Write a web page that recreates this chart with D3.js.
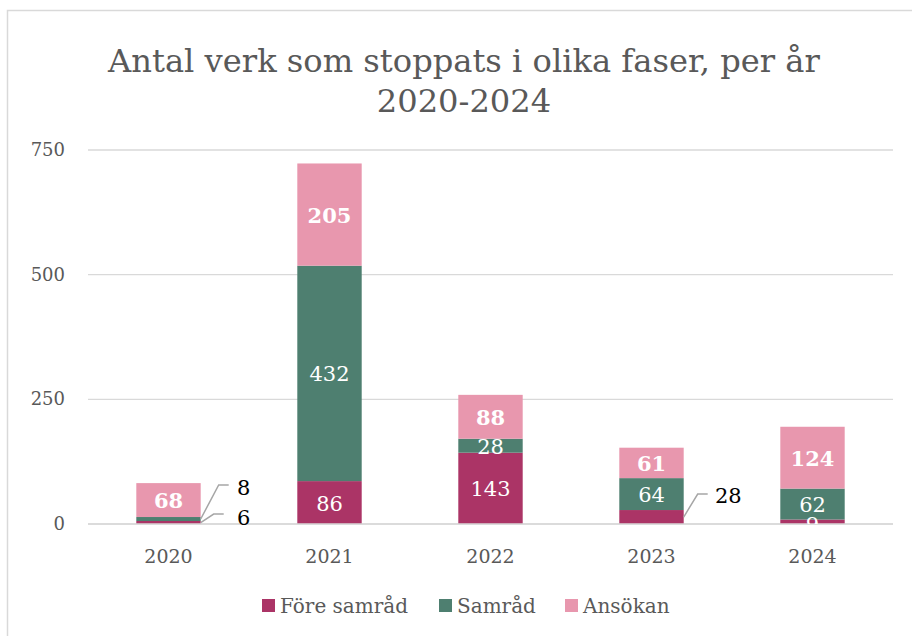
<!DOCTYPE html>
<html>
<head>
<meta charset="utf-8">
<script src="https://cdn.jsdelivr.net/npm/d3@7"></script>
<style>
  body { margin: 0; background: #fff; }
  svg { display: block; font-family: Georgia, 'DejaVu Serif', serif; }
</style>
</head>
<body>
<svg width="912" height="636"></svg>
<script>
const years = ['2020', '2021', '2022', '2023', '2024'];
const series = ['Före samråd', 'Samråd', 'Ansökan'];
const foreSamrad = [6, 86, 143, 28, 9];
const samrad = [8, 432, 28, 64, 62];
const ansokan = [68, 205, 88, 61, 124];
const yTicks = [0, 250, 500, 750];
const colors = ['#AB3466', '#4E7F70', '#E897AE'];
const boldSeries = ['Ansökan'];

const svg = d3.select('svg');
const W = 912, H = 636;

// outer chart frame (only left/top visible)
svg.append('rect')
  .attr('x', 7.5).attr('y', 10.5)
  .attr('width', 1000).attr('height', 1000)
  .attr('fill', 'none').attr('stroke', '#D9D9D9').attr('stroke-width', 1.5);

// title, sized to the reference width
const title = svg.append('text')
  .attr('text-anchor', 'middle')
  .attr('fill', '#595959')
  .style('font-size', '34px');
const t1 = title.append('tspan').attr('x', 464).attr('y', 72).text('Antal verk som stoppats i olika faser, per år');
title.append('tspan').attr('x', 464).attr('y', 112).text('2020-2024');
const tw = t1.node().getComputedTextLength();
title.style('font-size', (34 * 712 / tw) + 'px');

const margin = { left: 88, right: 19 };

const x = d3.scaleBand()
  .domain(years)
  .range([margin.left, W - margin.right])
  .paddingInner(0.6)
  .paddingOuter(0.3);

const y = d3.scaleLinear()
  .domain([0, 750])
  .range([524, 150]);

const rows = years.map((yr, i) => ({
  year: yr,
  'Före samråd': foreSamrad[i],
  'Samråd': samrad[i],
  'Ansökan': ansokan[i]
}));

const stacked = d3.stack().keys(series)(rows);

// gridlines
svg.append('g')
  .selectAll('line')
  .data(yTicks)
  .join('line')
  .attr('x1', margin.left).attr('x2', W - margin.right)
  .attr('y1', d => y(d)).attr('y2', d => y(d))
  .attr('stroke', '#D9D9D9').attr('stroke-width', 1.3);

// y labels
svg.append('g')
  .selectAll('text')
  .data(yTicks)
  .join('text')
  .attr('x', 65).attr('y', d => y(d) + 6)
  .attr('text-anchor', 'end')
  .attr('fill', '#595959')
  .style('font-size', '18px')
  .text(d => d);

// x labels
svg.append('g')
  .selectAll('text')
  .data(years)
  .join('text')
  .attr('x', d => x(d) + x.bandwidth() / 2)
  .attr('y', 563)
  .attr('text-anchor', 'middle')
  .attr('fill', '#595959')
  .style('font-size', '19px')
  .text(d => d);

svg.append('clipPath').attr('id', 'plotclip')
  .append('rect').attr('x', 0).attr('y', 0).attr('width', W).attr('height', y(0));

// bars
const layers = svg.append('g')
  .selectAll('g')
  .data(stacked)
  .join('g')
  .attr('fill', (d, i) => colors[i]);

layers.selectAll('rect')
  .data(d => d)
  .join('rect')
  .attr('x', d => x(d.data.year))
  .attr('y', d => y(d[1]))
  .attr('width', x.bandwidth())
  .attr('height', d => y(d[0]) - y(d[1]));

// baseline over bars
svg.append('line')
  .attr('x1', margin.left).attr('x2', W - margin.right)
  .attr('y1', y(0)).attr('y2', y(0))
  .attr('stroke', '#D9D9D9').attr('stroke-width', 1.3);

// data labels
const labels = svg.append('g').attr('clip-path', 'url(#plotclip)');
const outside = [];
stacked.forEach((layer, si) => {
  layer.forEach(d => {
    const h = y(d[0]) - y(d[1]);
    const val = d[1] - d[0];
    if (h < 12 && d.data.year === '2020' || (d.data.year === '2023' && si === 0)) {
      outside.push({ d, si, val });
      return;
    }
    labels.append('text')
      .attr('x', x(d.data.year) + x.bandwidth() / 2)
      .attr('y', (y(d[0]) + y(d[1])) / 2 + (h < 12 ? 10 : 8))
      .attr('text-anchor', 'middle')
      .attr('fill', '#fff')
      .style('font-size', '21px')
      .style('font-weight', boldSeries.includes(series[si]) ? 'bold' : 'normal')
      .text(val);
  });
});

// outside labels with leader lines
const leaderOffsets = {
  '2020-0': { dx: 13, ly: 514, tx: 237, ty: 525 },
  '2020-1': { dx: 18, ly: 485, tx: 237, ty: 495 },
  '2023-0': { dx: 14, ly: 494, tx: 715, ty: 503 }
};
outside.forEach(o => {
  const key = o.d.data.year + '-' + o.si;
  const off = leaderOffsets[key];
  const bx = x(o.d.data.year) + x.bandwidth();
  const by = (y(o.d[0]) + y(o.d[1])) / 2;
  svg.append('polyline')
    .attr('points', [[bx, by], [bx + off.dx, off.ly], [bx + off.dx + 10, off.ly]].join(' '))
    .attr('fill', 'none')
    .attr('stroke', '#A6A6A6')
    .attr('stroke-width', 1.5);
  svg.append('text')
    .attr('x', off.tx).attr('y', off.ty)
    .attr('fill', '#000')
    .style('font-size', '21px')
    .text(o.val);
});

// legend
const legendX = [262, 439, 565];
const legend = svg.append('g')
  .selectAll('g')
  .data(series)
  .join('g')
  .attr('transform', (d, i) => `translate(${legendX[i]},0)`);
legend.append('rect')
  .attr('x', 0).attr('y', 599)
  .attr('width', 13).attr('height', 13)
  .attr('fill', (d, i) => colors[i]);
legend.append('text')
  .attr('x', 18).attr('y', 613)
  .attr('fill', '#595959')
  .style('font-size', '20px')
  .text(d => d);
</script>
</body>
</html>
